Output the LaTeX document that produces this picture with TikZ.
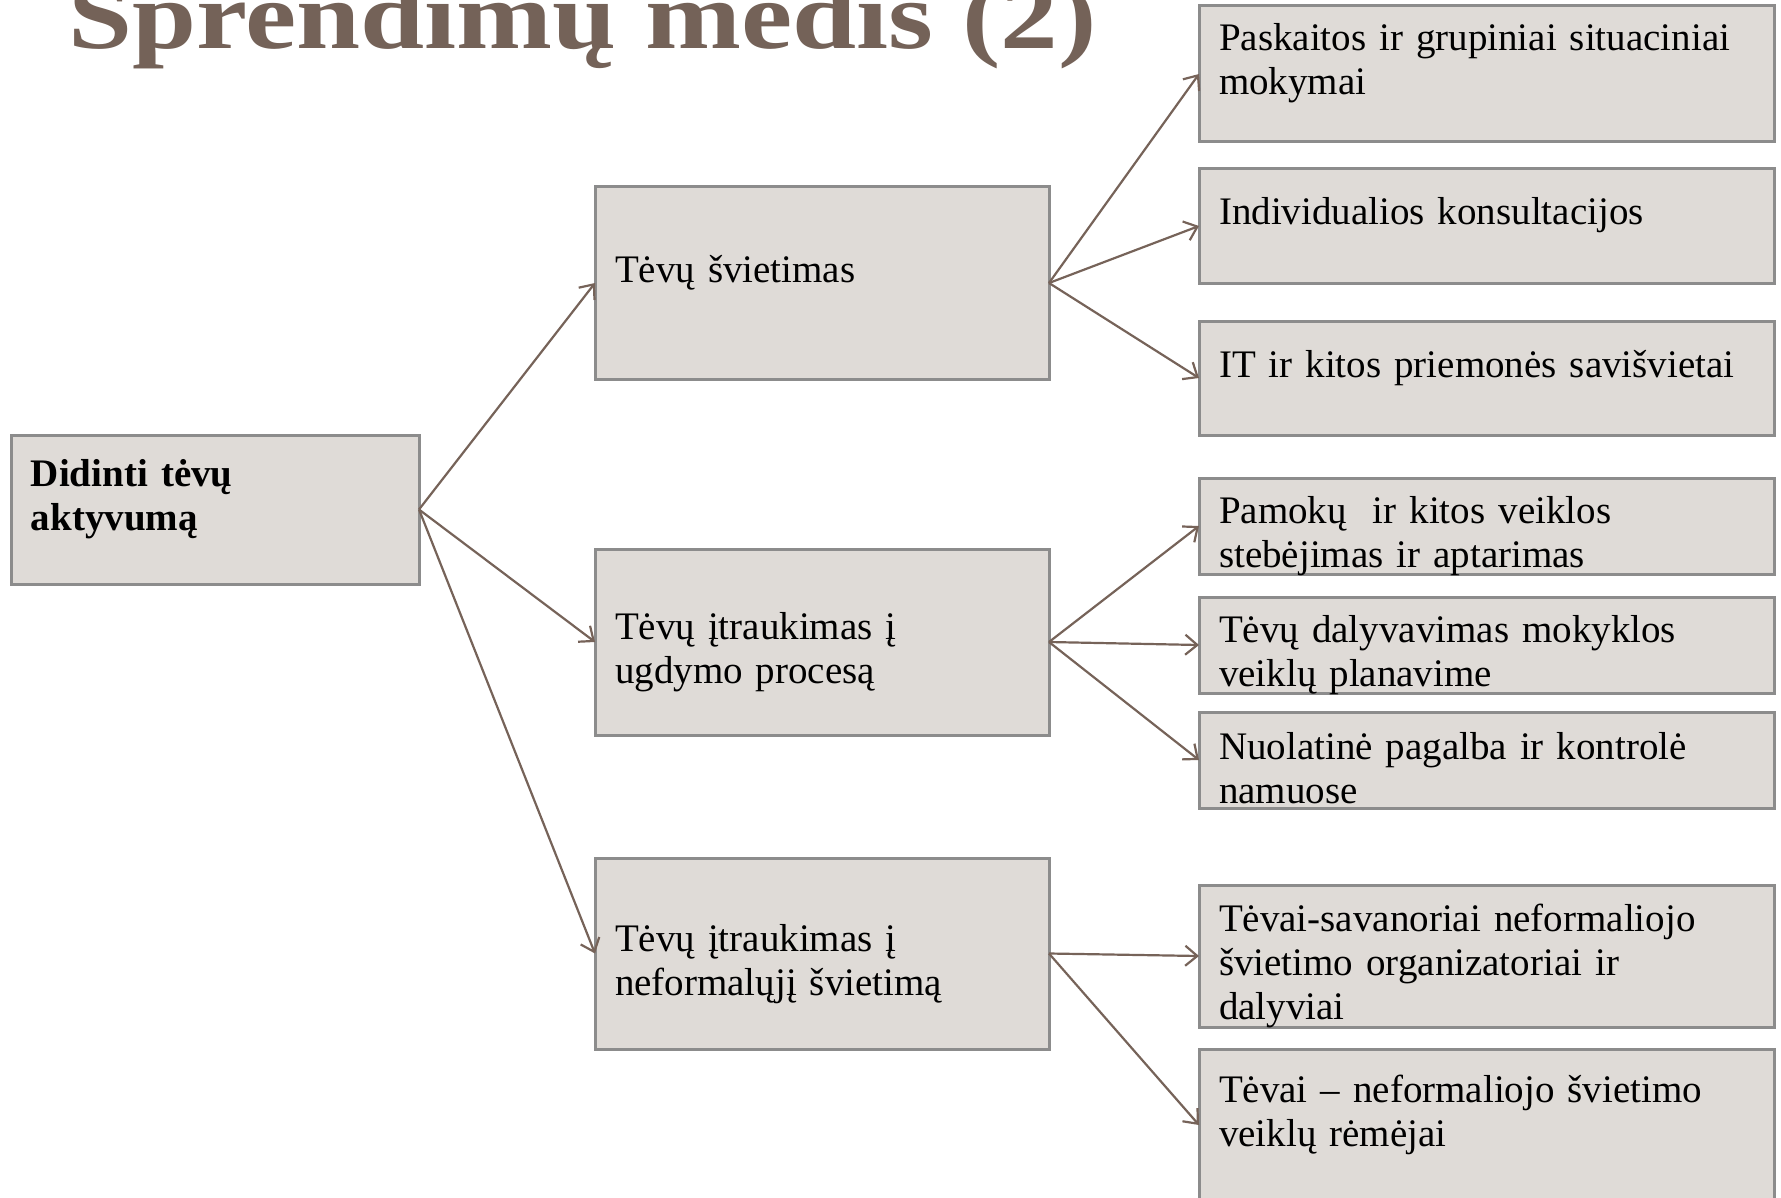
\documentclass[tikz,border=0pt]{standalone}
\usepackage{fontspec}
\usepackage{graphicx}
\setmainfont{Liberation Serif}
\usetikzlibrary{positioning,arrows.meta}
\definecolor{boxfill}{RGB}{223,219,215}
\definecolor{boxline}{RGB}{140,140,140}
\definecolor{arrbrown}{RGB}{118,99,89}
\definecolor{titlebrown}{RGB}{116,98,88}
\newcommand{\topstrut}{\rule{0pt}{24pt}}
\newcommand{\botstrut}{\rule[-3pt]{0pt}{19pt}}

\begin{document}
\begin{tikzpicture}[x=0.5pt,y=-0.5pt,
  box/.style={draw=boxline,fill=boxfill,line width=1.5pt,inner xsep=10pt,inner ysep=-4pt,outer sep=0pt,align=left,
    font=\fontsize{19.5}{22}\selectfont,execute at begin node=\topstrut,execute at end node=\botstrut},
  midbox/.style={box,text width=207pt},
  leafbox/.style={box,text width=267.5pt},
  arr/.style={-{Straight Barb[length=6pt,width=10pt]},line width=1.1pt,draw=arrbrown}]
\useasboundingbox (0,0) rectangle (1781,1198);
% title
\node[anchor=base west,inner sep=0pt,text=titlebrown,font=\fontsize{48}{50}\selectfont\bfseries] (title) at (68,49)
  {\scalebox{1.2}[1]{Sprendimų medis (2)}};
% root and middle level
\node[box,text width=184pt,minimum height=74.5pt] (goal) at (215,509.5) {\textbf{Didinti tėvų}\\\textbf{aktyvumą}\\\mbox{}};
\node[midbox,minimum height=96pt] (educ) at (822,283) {Tėvų švietimas\\\mbox{}};
\node[midbox,minimum height=93pt] (proc) at (822,642) {Tėvų įtraukimas į\\ugdymo procesą};
\node[midbox,minimum height=95.5pt] (nonf) at (822,953.5) {Tėvų įtraukimas į\\neformalųjį švietimą};
% leaves
\node[leafbox,minimum height=68pt] (lect) at (1486.5,74) {Paskaitos ir grupiniai situaciniai\\mokymai\\\mbox{}};
\node[leafbox,minimum height=57pt,below=13.5pt of lect] (cons) {Individualios konsultacijos\\\mbox{}};
\node[leafbox,minimum height=57pt,below=19pt of cons] (self) {IT ir kitos priemonės savišvietai\\\mbox{}};
\node[leafbox,minimum height=48pt] (obs) at (1486.5,526) {Pamokų~ ir kitos veiklos\\stebėjimas ir aptarimas};
\node[leafbox,minimum height=48pt,below=11.5pt of obs] (plan) {Tėvų dalyvavimas mokyklos\\veiklų planavime};
\node[leafbox,minimum height=48pt,below=9.5pt of plan] (home) {Nuolatinė pagalba ir kontrolė\\namuose};
\node[leafbox,minimum height=71pt] (vol) at (1486.5,956) {Tėvai-savanoriai neformaliojo\\švietimo organizatoriai ir\\dalyviai};
\node[leafbox,minimum height=76pt,below=11pt of vol] (spon) {Tėvai – neformaliojo švietimo\\veiklų rėmėjai\\\mbox{}};
% connectors
\draw[arr] (goal.east) -- (educ.west);
\draw[arr] (goal.east) -- (proc.west);
\draw[arr] (goal.east) -- (nonf.west);
\draw[arr] (educ.east) -- (lect.west);
\draw[arr] (educ.east) -- (cons.west);
\draw[arr] (educ.east) -- (self.west);
\draw[arr] (proc.east) -- (obs.west);
\draw[arr] (proc.east) -- (plan.west);
\draw[arr] (proc.east) -- (home.west);
\draw[arr] (nonf.east) -- (vol.west);
\draw[arr] (nonf.east) -- (spon.west);
\end{tikzpicture}
\end{document}
